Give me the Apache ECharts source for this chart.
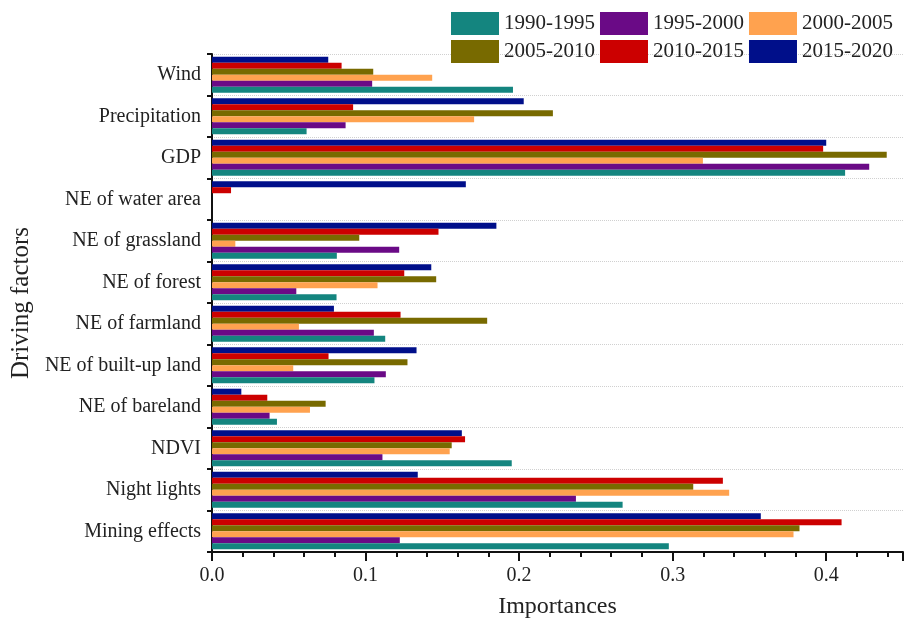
<!DOCTYPE html>
<html lang="en">
  <head>
    <meta charset="UTF-8" />
    <title>Driving factors importances</title>
    <script src="https://cdn.jsdelivr.net/npm/echarts@6/dist/echarts.min.js"></script>
    <style>
      body {
        margin: 0;
        background: #fff;
      }
      #main {
        width: 912px;
        height: 624px;
      }
    </style>
  </head>
  <body>
    <div id="main"></div>
    <script type="text/javascript">
      // categories, bottom to top as on the axis
      const factors = [
        "Mining effects",
        "Night lights",
        "NDVI",
        "NE of bareland",
        "NE of built-up land",
        "NE of farmland",
        "NE of forest",
        "NE of grassland",
        "NE of water area",
        "GDP",
        "Precipitation",
        "Wind",
      ]

      const periods = ["1990-1995", "1995-2000", "2000-2005", "2005-2010", "2010-2015", "2015-2020"]

      // values per period, same order as factors
      const p1990 = [0.2975, 0.2674, 0.1952, 0.0423, 0.1058, 0.1128, 0.0811, 0.0813, 0, 0.4123, 0.0616, 0.196]
      const p1995 = [0.1223, 0.237, 0.111, 0.0375, 0.1132, 0.1054, 0.0549, 0.1219, 0, 0.428, 0.087, 0.1043]
      const p2000 = [0.3787, 0.3368, 0.1548, 0.0638, 0.0529, 0.0566, 0.1078, 0.0152, 0, 0.3197, 0.1707, 0.1434]
      const p2005 = [0.3826, 0.3134, 0.1561, 0.074, 0.1273, 0.1792, 0.146, 0.0959, 0, 0.4394, 0.222, 0.105]
      const p2010 = [0.41, 0.3327, 0.1648, 0.036, 0.0759, 0.1228, 0.1252, 0.1475, 0.0124, 0.398, 0.0919, 0.0844]
      const p2015 = [0.3574, 0.134, 0.1627, 0.0191, 0.1332, 0.0794, 0.1428, 0.1852, 0.1653, 0.4, 0.203, 0.0757]

      const values = [p1990, p1995, p2000, p2005, p2010, p2015]
      const colors = ["#14857f", "#6a0a86", "#ffa24f", "#786a00", "#cc0000", "#000f8a"]

      const serif = "Liberation Serif"

      var chart = echarts.init(document.getElementById("main"))

      // echarts puts the first series at the top of a horizontal group,
      // the figure has 1990-1995 at the bottom, so add them in reverse
      const series = periods
        .map((p, i) => ({
          name: p,
          type: "bar",
          data: values[i],
          barGap: "0%",
          barCategoryGap: "13%",
          itemStyle: { color: colors[i] },
        }))
        .reverse()

      const option = {
        animation: false,
        legend: {
          data: periods.map((p, i) => ({ name: p, itemStyle: { color: colors[i] } })),
          left: 451,
          top: 12,
          padding: 0,
          width: 470,
          itemWidth: 48,
          itemHeight: 23,
          itemGap: 5,
          icon: "rect",
          textStyle: { fontFamily: serif, fontSize: 21, color: "#222", width: 97 },
        },
        grid: {
          left: 212,
          right: 9,
          top: 54,
          bottom: 72,
        },
        xAxis: {
          type: "value",
          min: 0,
          max: 0.45,
          interval: 0.1,
          name: "Importances",
          nameLocation: "middle",
          nameGap: 43,
          nameTextStyle: { fontFamily: serif, fontSize: 24, color: "#222" },
          axisLine: { show: true, lineStyle: { color: "#111", width: 2 } },
          axisTick: { show: true, length: 9, lineStyle: { color: "#111", width: 2 } },
          minorTick: { show: true, splitNumber: 5, length: 5, lineStyle: { color: "#111", width: 2 } },
          splitLine: { show: false },
          axisLabel: {
            fontFamily: serif,
            fontSize: 20,
            color: "#222",
            margin: 14,
            showMaxLabel: false,
            formatter: v => v.toFixed(1),
          },
        },
        yAxis: {
          type: "category",
          data: factors,
          name: "Driving factors",
          nameLocation: "middle",
          nameGap: 177,
          nameTextStyle: { fontFamily: serif, fontSize: 25, color: "#222" },
          axisLine: { show: true, lineStyle: { color: "#111", width: 2 } },
          axisTick: { show: true, length: 5, lineStyle: { color: "#111", width: 2 } },
          splitLine: { show: true, lineStyle: { color: "#d0d0d0", type: "dotted", width: 1 } },
          axisLabel: { fontFamily: serif, fontSize: 20, color: "#222", margin: 11 },
        },
        series: series,
      }

      chart.setOption(option)
    </script>
  </body>
</html>
